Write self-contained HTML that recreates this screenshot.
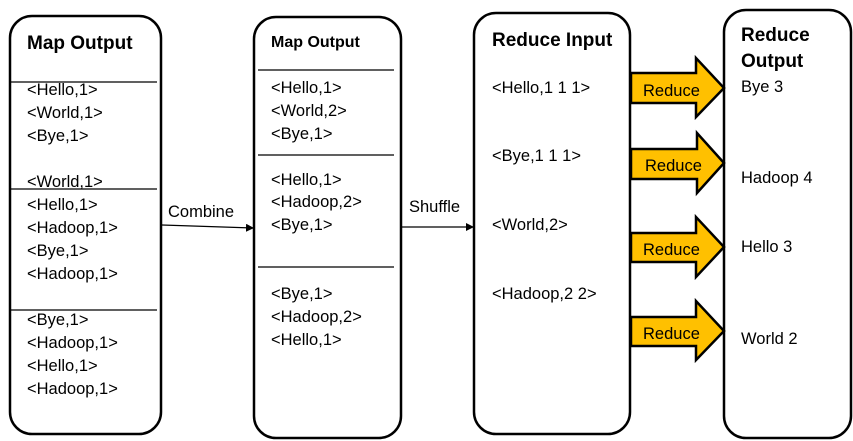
<!DOCTYPE html>
<html><head><style>body{margin:0;background:#fff}svg{display:block}text{font-family:"Liberation Sans",sans-serif;font-size:16.5px;fill:#000}.b{font-weight:bold}</style></head><body>
<svg width="853" height="441" viewBox="0 0 853 441" xmlns="http://www.w3.org/2000/svg">
<defs><marker id="a" markerWidth="8" markerHeight="8" refX="7" refY="4" orient="auto" markerUnits="userSpaceOnUse"><path d="M0,0 L8,4 L0,8 z" fill="#000"/></marker></defs>
<g fill="none" stroke="#000" stroke-width="2.5">
<rect x="10" y="16" width="151" height="418" rx="22"/>
<rect x="254" y="17" width="147" height="421" rx="22"/>
<rect x="474" y="13" width="156" height="421" rx="22"/>
<rect x="724" y="10" width="127" height="428" rx="22"/>
</g>
<g stroke="#000" stroke-width="1.2">
<line x1="10" y1="82" x2="157" y2="82"/><line x1="10" y1="189" x2="157" y2="189"/><line x1="10" y1="310" x2="157" y2="310"/>
<line x1="258" y1="70" x2="394" y2="70"/><line x1="258" y1="155" x2="394" y2="155"/><line x1="258" y1="267" x2="394" y2="267"/>
<line x1="162" y1="225" x2="253" y2="228" marker-end="url(#a)"/>
<line x1="401" y1="227" x2="473" y2="227" marker-end="url(#a)"/>
</g>
<g fill="#ffc000" stroke="#000" stroke-width="2.5" stroke-linejoin="miter">
<path d="M631,73 H696 V58 L724,88 L696,117 V103 H631 Z"/>
<path d="M631,149 H697 V133 L724,163 L697,193 V179 H631 Z"/>
<path d="M631,233 H696 V217 L724,247 L696,277 V262 H631 Z"/>
<path d="M631,317 H696 V301 L724,331 L696,360 V346 H631 Z"/>
</g>
<text x="643" y="96">Reduce</text><text x="645" y="171">Reduce</text><text x="643" y="255">Reduce</text><text x="643" y="339">Reduce</text>
<text class="b" x="27" y="49" style="font-size:19px">Map Output</text>
<text x="27" y="95">&lt;Hello,1&gt;</text><text x="27" y="118">&lt;World,1&gt;</text><text x="27" y="141">&lt;Bye,1&gt;</text>
<text x="27" y="187">&lt;World,1&gt;</text><text x="27" y="210">&lt;Hello,1&gt;</text><text x="27" y="233">&lt;Hadoop,1&gt;</text><text x="27" y="256">&lt;Bye,1&gt;</text><text x="27" y="279">&lt;Hadoop,1&gt;</text>
<text x="27" y="325">&lt;Bye,1&gt;</text><text x="27" y="348">&lt;Hadoop,1&gt;</text><text x="27" y="371">&lt;Hello,1&gt;</text><text x="27" y="394">&lt;Hadoop,1&gt;</text>
<text class="b" x="271" y="47" style="font-size:16px">Map Output</text>
<text x="271" y="93">&lt;Hello,1&gt;</text><text x="271" y="116">&lt;World,2&gt;</text><text x="271" y="139">&lt;Bye,1&gt;</text>
<text x="271" y="185">&lt;Hello,1&gt;</text><text x="271" y="207">&lt;Hadoop,2&gt;</text><text x="271" y="230">&lt;Bye,1&gt;</text>
<text x="271" y="299">&lt;Bye,1&gt;</text><text x="271" y="322">&lt;Hadoop,2&gt;</text><text x="271" y="345">&lt;Hello,1&gt;</text>
<text x="168" y="217">Combine</text><text x="409" y="212">Shuffle</text>
<text class="b" x="492" y="46" style="font-size:19px">Reduce Input</text>
<text x="492" y="93">&lt;Hello,1 1 1&gt;</text><text x="492" y="161">&lt;Bye,1 1 1&gt;</text><text x="492" y="230">&lt;World,2&gt;</text><text x="492" y="299">&lt;Hadoop,2 2&gt;</text>
<text class="b" x="741" y="41" style="font-size:19px">Reduce</text><text class="b" x="741" y="67" style="font-size:19px">Output</text>
<text x="741" y="92">Bye 3</text><text x="741" y="183">Hadoop 4</text><text x="741" y="252">Hello 3</text><text x="741" y="344">World 2</text>
</svg></body></html>
